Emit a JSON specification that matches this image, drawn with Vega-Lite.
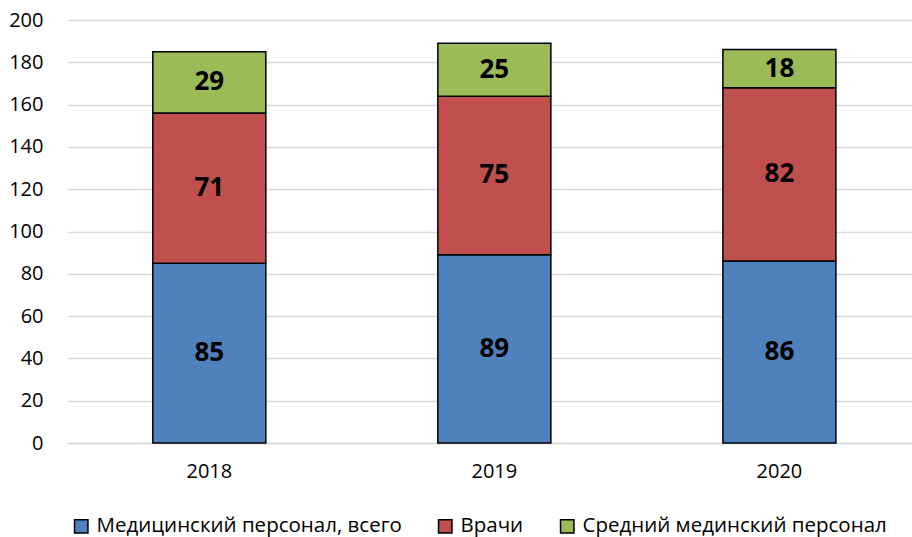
{
  "$schema": "https://vega.github.io/schema/vega-lite/v6.json",
  "width": 845,
  "height": 423,
  "autosize": {"type": "none"},
  "padding": {"left": 67, "top": 20, "right": 0, "bottom": 94},
  "background": "white",
  "config": {
    "font": "Open Sans",
    "view": {"stroke": null}
  },
  "data": {
    "values": [
      {"year": "2018", "cat": "Медицинский персонал, всего", "ord": 1, "value": 85},
      {"year": "2018", "cat": "Врачи", "ord": 2, "value": 71},
      {"year": "2018", "cat": "Средний мединский персонал", "ord": 3, "value": 29},
      {"year": "2019", "cat": "Медицинский персонал, всего", "ord": 1, "value": 89},
      {"year": "2019", "cat": "Врачи", "ord": 2, "value": 75},
      {"year": "2019", "cat": "Средний мединский персонал", "ord": 3, "value": 25},
      {"year": "2020", "cat": "Медицинский персонал, всего", "ord": 1, "value": 86},
      {"year": "2020", "cat": "Врачи", "ord": 2, "value": 82},
      {"year": "2020", "cat": "Средний мединский персонал", "ord": 3, "value": 18}
    ]
  },
  "transform": [
    {"stack": "value", "groupby": ["year"], "sort": [{"field": "ord", "order": "ascending"}], "as": ["y0", "y1"]},
    {"calculate": "(datum.y0 + datum.y1) / 2", "as": "ymid"}
  ],
  "encoding": {
    "x": {
      "field": "year", "type": "nominal", "title": null,
      "scale": {"paddingInner": 0.6035, "paddingOuter": 0.284, "align": 0.53},
      "axis": {
        "labelAngle": 0, "labelFontSize": 20, "labelColor": "#000000", "labelPadding": 18,
        "ticks": false, "domainColor": "#d9d9d9", "domainWidth": 1.5
      }
    }
  },
  "layer": [
    {
      "mark": {"type": "bar", "stroke": "#000000", "strokeWidth": 1.5},
      "encoding": {
        "y": {
          "field": "y0", "type": "quantitative", "title": null,
          "scale": {"domain": [0, 200]},
          "axis": {
            "values": [0, 20, 40, 60, 80, 100, 120, 140, 160, 180, 200],
            "labelFontSize": 20, "labelColor": "#000000", "labelPadding": 24,
            "ticks": false, "domain": false,
            "gridColor": "#d9d9d9", "gridWidth": 1.5
          }
        },
        "y2": {"field": "y1"},
        "color": {
          "field": "cat", "type": "nominal",
          "scale": {
            "domain": ["Медицинский персонал, всего", "Врачи", "Средний мединский персонал"],
            "range": ["#4F81BD", "#C0504D", "#9BBB59"]
          },
          "legend": {
            "title": null, "orient": "none", "direction": "horizontal",
            "legendX": 4, "legendY": 496,
            "symbolType": "square", "symbolSize": 180, "symbolStrokeColor": "#000000", "symbolStrokeWidth": 1.5,
            "labelFontSize": 20.5, "labelColor": "#000000", "labelOffset": 5, "labelLimit": 500,
            "columnPadding": 33
          }
        }
      }
    },
    {
      "mark": {"type": "text", "fontSize": 26, "fontWeight": "bold", "color": "#000000", "baseline": "middle"},
      "encoding": {
        "y": {"field": "ymid", "type": "quantitative"},
        "text": {"field": "value", "type": "quantitative"}
      }
    }
  ]
}
